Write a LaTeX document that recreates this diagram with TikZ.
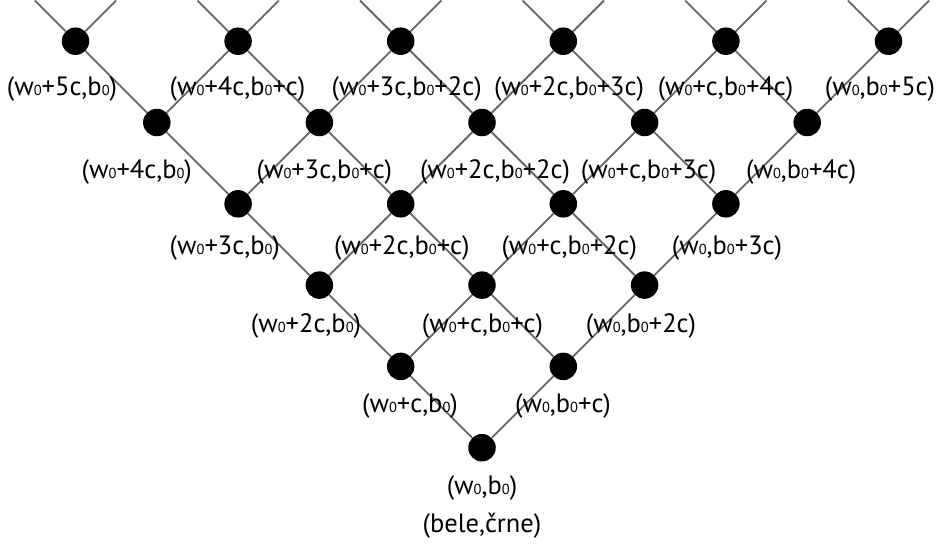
\documentclass[tikz,border=0pt]{standalone}
\usepackage{fontspec}
\setmainfont{PT Sans}
\usetikzlibrary{positioning}

% small zero index
\newcommand{\nic}{{\fontsize{14.5pt}{14.5pt}\selectfont 0}}

\begin{document}
\begin{tikzpicture}[x=1pt,y=-1pt,node distance=40pt]

% Define styles
\tikzstyle{dot} = [circle, fill=black, inner sep=0pt, minimum size=27.5pt]
\tikzstyle{lab} = [inner sep=0pt, font=\fontsize{26.5pt}{31pt}\selectfont]
\tikzstyle{edge} = [draw=black!60, line width=1.8pt]

\useasboundingbox (0,0) rectangle (939,546);

% Define nodes: d<i><j> is (w0+ic,b0+jc)
\foreach \n in {0,...,5} {
  \foreach \i in {0,...,\n} {
    \pgfmathtruncatemacro\j{\n-\i}
    \node (d\i\j) [dot] at ({482+(\j-\i)*81.3},{447.7-\n*81.3}) {};
  }
}

% Draw edges
\foreach \n in {0,...,4} {
  \foreach \i in {0,...,\n} {
    \pgfmathtruncatemacro\j{\n-\i}
    \pgfmathtruncatemacro\ii{\i+1}
    \pgfmathtruncatemacro\jj{\j+1}
    \draw [edge] (d\i\j) -- (d\ii\j);
    \draw [edge] (d\i\j) -- (d\i\jj);
  }
}
% loose ends on the top row
\foreach \i in {0,...,5} {
  \pgfmathtruncatemacro\j{5-\i}
  \path (d\i\j) ++(-40.65,-40.65) coordinate (tl\i\j);
  \path (d\i\j) ++(40.65,-40.65) coordinate (tr\i\j);
  \draw [edge] (d\i\j) -- (tl\i\j);
  \draw [edge] (d\i\j) -- (tr\i\j);
}

% Labels
\node (l00) [lab, below of = d00] {(w\nic,b\nic)};
\node (barve) [lab, below of = l00, node distance=38.3pt] {(bele,črne)};

\node (l10) [lab, below of = d10, xshift=9.3pt] {(w\nic+c,b\nic)};
\node (l01) [lab, below of = d01, xshift=-0.3pt] {(w\nic,b\nic+c)};

\node (l20) [lab, below of = d20, xshift=-13.4pt, node distance=40.8pt] {(w\nic+2c,b\nic)};
\node (l11) [lab, below of = d11, xshift=0.5pt, node distance=40.8pt] {(w\nic+c,b\nic+c)};
\node (l02) [lab, below of = d02, xshift=-3.6pt, node distance=40.8pt] {(w\nic,b\nic+2c)};

\node (l30) [lab, below of = d30, xshift=-13.3pt, node distance=44.5pt] {(w\nic+3c,b\nic)};
\node (l21) [lab, below of = d21, xshift=1.1pt, node distance=44.5pt] {(w\nic+2c,b\nic+c)};
\node (l12) [lab, below of = d12, xshift=6pt, node distance=44.5pt] {(w\nic+c,b\nic+2c)};
\node (l03) [lab, below of = d03, xshift=1.1pt, node distance=44.5pt] {(w\nic,b\nic+3c)};

\node (l40) [lab, below of = d40, xshift=-20pt, node distance=49.7pt] {(w\nic+4c,b\nic)};
\node (l31) [lab, below of = d31, xshift=5pt, node distance=49.7pt] {(w\nic+3c,b\nic+c)};
\node (l22) [lab, below of = d22, xshift=13pt, node distance=49.7pt] {(w\nic+2c,b\nic+2c)};
\node (l13) [lab, below of = d13, xshift=4pt, node distance=49.7pt] {(w\nic+c,b\nic+3c)};
\node (l04) [lab, below of = d04, xshift=-6pt, node distance=49.7pt] {(w\nic,b\nic+4c)};

\node (l50) [lab, below of = d50, xshift=-13.5pt, node distance=48pt] {(w\nic+5c,b\nic)};
\node (l41) [lab, below of = d41, xshift=-0.6pt, node distance=48pt] {(w\nic+4c,b\nic+c)};
\node (l32) [lab, below of = d32, xshift=6pt, node distance=48pt] {(w\nic+3c,b\nic+2c)};
\node (l23) [lab, below of = d23, xshift=5.7pt, node distance=48pt] {(w\nic+2c,b\nic+3c)};
\node (l14) [lab, below of = d14, xshift=-0.4pt, node distance=48pt] {(w\nic+c,b\nic+4c)};
\node (l05) [lab, below of = d05, xshift=-8.5pt, node distance=48pt] {(w\nic,b\nic+5c)};

\end{tikzpicture}
\end{document}
